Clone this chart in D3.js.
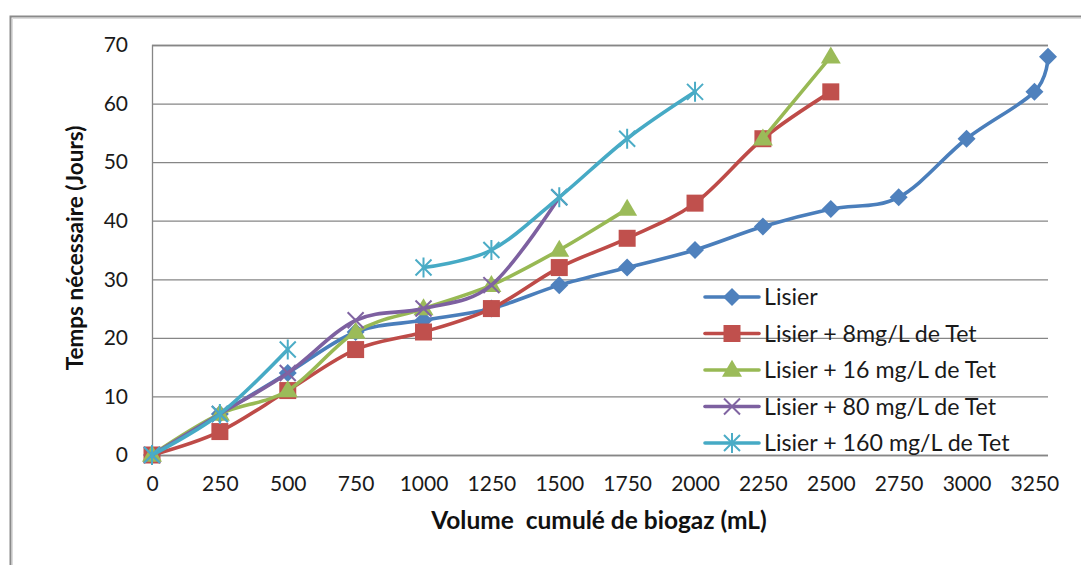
<!DOCTYPE html>
<html>
<head>
<meta charset="utf-8">
<script src="https://cdn.jsdelivr.net/npm/d3@7/dist/d3.min.js"></script>
<style>
  html, body { margin: 0; padding: 0; background: #fff; }
  svg { display: block; }
  text { font-family: Lato, "Open Sans", sans-serif; }
</style>
</head>
<body>
<svg id="chart" width="1081" height="565"></svg>
<script>
// Cumulative biogas volume (mL) at which each time was recorded
const volumes = [0, 250, 500, 750, 1000, 1250, 1500, 1750, 2000, 2250, 2500, 2750, 3000, 3250, 3300];
// Days needed to reach each volume (null = not reached / not measured)
const lisier       = [0, 7, 14, 21, 23, 25, 29, 32, 35, 39, 42, 44, 54, 62, 68];
const lisierTet8   = [0, 4, 11, 18, 21, 25, 32, 37, 43, 54, 62, null, null, null, null];
const lisierTet16  = [0, 7, 11, 21, 25, 29, 35, 42, null, 54, 68, null, null, null, null];
const lisierTet80  = [0, 7, 14, 23, 25, 29, 44, null, null, null, null, null, null, null, null];
const lisierTet160 = [0, 7, 18, null, 32, 35, 44, 54, 62, null, null, null, null, null, null];

const seriesNames = ["Lisier", "Lisier + 8mg/L de Tet", "Lisier + 16 mg/L de Tet",
                     "Lisier + 80 mg/L de Tet", "Lisier + 160 mg/L de Tet"];
const xTicks = [0, 250, 500, 750, 1000, 1250, 1500, 1750, 2000, 2250, 2500, 2750, 3000, 3250];
const yTicks = [0, 10, 20, 30, 40, 50, 60, 70];

const xTitle = "Volume\u00A0 cumulé de biogaz (mL)";
const yTitle = "Temps nécessaire (Jours)";

const styles = [
  { line: "#4A7EBB", fill: "#4F81BD", marker: "diamond" },
  { line: "#BE4B48", fill: "#C0504D", marker: "square" },
  { line: "#98B954", fill: "#9BBB59", marker: "triangle" },
  { line: "#7D60A0", fill: "#8064A2", marker: "x" },
  { line: "#46AAC5", fill: "#4BACC6", marker: "star" }
];

const seriesValues = [lisier, lisierTet8, lisierTet16, lisierTet80, lisierTet160];
const series = seriesNames.map((name, i) => ({
  name,
  style: styles[i],
  points: volumes.map((v, j) => ({ x: v, y: seriesValues[i][j] }))
}));

const svg = d3.select("#chart");
const plot = { left: 152, right: 1048, top: 45, bottom: 455 };

const x = d3.scaleLinear().domain([0, 3300]).range([plot.left, plot.right]);
const y = d3.scaleLinear().domain([0, 70]).range([plot.bottom, plot.top]);

// Outer chart-area frame (top and left edges)
svg.append("path")
  .attr("d", "M10.5,565 V16.5 H1081")
  .attr("fill", "none").attr("stroke", "#8a8a8a").attr("stroke-width", 2);
svg.append("path")
  .attr("d", "M12.5,565 V18.5 H1081")
  .attr("fill", "none").attr("stroke", "#dcdcdc").attr("stroke-width", 1);

// Horizontal gridlines and value labels
const yAxis = d3.axisLeft(y).tickValues(yTicks).tickFormat(d3.format("d"))
  .tickSize(-(plot.right - plot.left)).tickPadding(24);
const gy = svg.append("g").attr("transform", `translate(${plot.left},0)`).call(yAxis);
gy.select(".domain").attr("stroke", "#868686").attr("stroke-width", 1.3);
gy.selectAll(".tick line").attr("stroke", "#868686").attr("stroke-width", 1.3);
gy.selectAll(".tick text").attr("font-size", 21).attr("fill", "#1a1a1a")
  .attr("font-family", "Lato, sans-serif");

// X axis labels
const xAxis = d3.axisBottom(x).tickValues(xTicks).tickFormat(d3.format("d"))
  .tickSize(0).tickPadding(21);
const gx = svg.append("g").attr("transform", `translate(0,${plot.bottom})`).call(xAxis);
gx.select(".domain").remove();
gx.selectAll(".tick text").attr("font-size", 21).attr("fill", "#1a1a1a")
  .attr("font-family", "Lato, sans-serif");

// Axis titles
svg.append("text")
  .attr("x", 599).attr("y", 529)
  .attr("text-anchor", "middle").attr("font-size", 24.5).attr("font-weight", "bold")
  .attr("fill", "#111").text(xTitle);
svg.append("text")
  .attr("transform", `translate(83,248) rotate(-90)`)
  .attr("text-anchor", "middle").attr("font-size", 22.5).attr("font-weight", "bold")
  .attr("fill", "#111").text(yTitle);

// Marker drawing
function drawMarker(g, type, st) {
  if (type === "diamond") {
    const r = 9;
    g.append("path").attr("d", `M0,${-r} L${r},0 L0,${r} L${-r},0 Z`).attr("fill", st.fill);
  } else if (type === "square") {
    const s = 8.5;
    g.append("rect").attr("x", -s).attr("y", -s).attr("width", 2 * s).attr("height", 2 * s)
      .attr("fill", st.fill);
  } else if (type === "triangle") {
    const w = 10, h = 17;
    g.append("path").attr("d", `M0,${-h * 0.6} L${w},${h * 0.4} L${-w},${h * 0.4} Z`).attr("fill", st.fill);
  } else if (type === "x") {
    const r = 8;
    g.append("path").attr("d", `M${-r},${-r} L${r},${r} M${-r},${r} L${r},${-r}`)
      .attr("stroke", st.fill).attr("stroke-width", 2).attr("fill", "none");
  } else if (type === "star") {
    const r = 8;
    g.append("path").attr("d", `M${-r},${-r} L${r},${r} M${-r},${r} L${r},${-r} M0,${-r * 1.25} L0,${r * 1.25}`)
      .attr("stroke", st.fill).attr("stroke-width", 2).attr("fill", "none");
  }
}

const line = d3.line()
  .defined(d => d.y !== null)
  .x(d => x(d.x)).y(d => y(d.y))
  .curve(d3.curveCardinal.tension(0));

series.forEach(s => {
  const g = svg.append("g");
  g.append("path").datum(s.points).attr("d", line)
    .attr("fill", "none").attr("stroke", s.style.line).attr("stroke-width", 3.6)
    .attr("stroke-linejoin", "round").attr("stroke-linecap", "round");
  s.points.filter(d => d.y !== null).forEach(d => {
    const m = g.append("g").attr("transform", `translate(${x(d.x)},${y(d.y)})`);
    drawMarker(m, s.style.marker, s.style);
  });
});

// Legend
const legend = svg.append("g").attr("transform", "translate(705,297)");
series.forEach((s, i) => {
  const row = legend.append("g").attr("transform", `translate(0,${i * 36.5})`);
  row.append("line").attr("x1", 0).attr("x2", 54).attr("y1", 0).attr("y2", 0)
    .attr("stroke", s.style.line).attr("stroke-width", 3.6).attr("stroke-linecap", "round");
  const m = row.append("g").attr("transform", "translate(27,0)");
  drawMarker(m, s.style.marker, s.style);
  row.append("text").attr("x", 59).attr("y", 8).attr("font-size", 23.2)
    .attr("fill", "#1a1a1a").text(s.name);
});
</script>
</body>
</html>
